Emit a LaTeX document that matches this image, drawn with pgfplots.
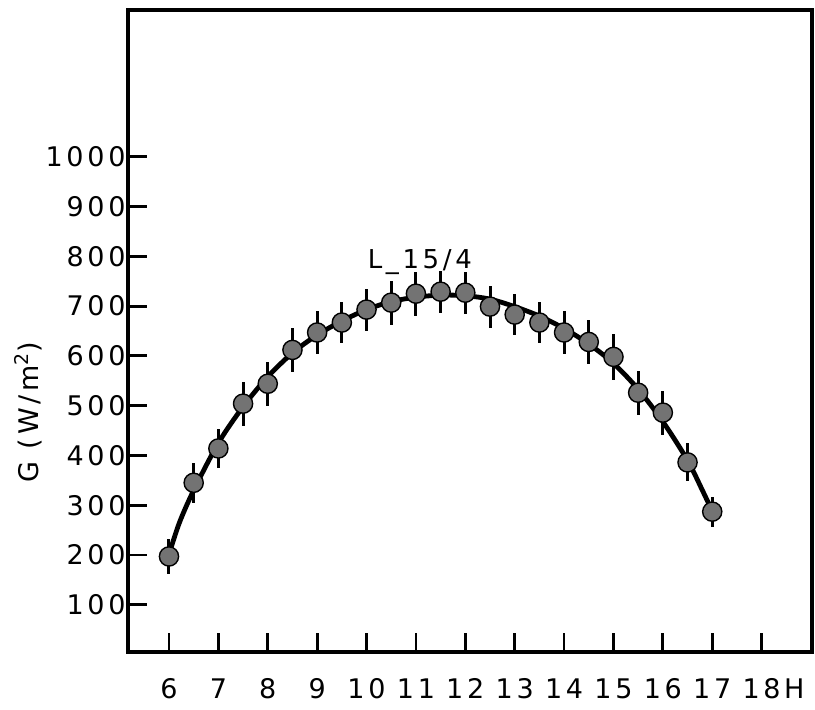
\documentclass[border=0pt]{standalone}
\usepackage{fontspec}
\setmainfont{DejaVu Sans}[LetterSpace=14]
\usepackage{pgfplots}
\usepackage{pgfplotstable}
\pgfplotsset{compat=1.18}
\definecolor{dotgray}{rgb}{0.45,0.45,0.45}
\pgfplotstableread{
x y e
6 197 35
6.5 345 40
7 414 40
7.5 504 44
8 544 44
8.5 612 44
9 647 44
9.5 667 42
10 693 42
10.5 707 44
11 725 44
11.5 729 42
12 727 42
12.5 699 42
13 683 42
13.5 667 42
14 647 44
14.5 628 44
15 598 46
15.5 526 44
16 486 44
16.5 386 38
17 287 30
}\pts
\pgfplotstableread{
x y
5.95 185
6.2 262
6.5 330
7 425
7.5 498
8 558
8.5 606
9 642
9.5 670
10 693
10.5 709
11 718
11.5 722
12 721
12.5 714
13 699
13.5 680
14 655
14.5 624
15 585
15.5 533
16 468
16.5 390
16.8 330
17 288
}\fit
\begin{document}
\begin{tikzpicture}
\begin{axis}[
  scale only axis, width=342pt, height=321pt,
  xmin=5.17, xmax=19.02, ymin=5, ymax=1295,
  axis line style={line width=1.9pt},
  xtick={6,...,18}, ytick={100,200,...,1000},
  tick pos=left, tick align=inside,
  major tick length=9.5pt,
  tick style={line width=1.4pt, black},
  /pgf/number format/assume math mode=true,
  /pgf/number format/1000 sep={},
  tick label style={font=\fontsize{13.5}{15}\selectfont},
  yticklabel style={anchor=east, inner sep=1pt},
  xticklabel style={anchor=base, yshift=-23pt},
  ylabel={G (W/m\textsuperscript{2})},
  ylabel style={at={(axis description cs:-0.146,0.374)}, anchor=center, font=\fontsize{13.5}{15}\selectfont},
  clip=false,
]
\coordinate (SW) at (rel axis cs:0,0);
\coordinate (NE) at (rel axis cs:1,1);
\addplot[smooth, line width=2.4pt, black] table[x=x, y=y] {\fit};
\addplot[only marks, mark=*, mark size=4.8pt,
  mark options={fill=dotgray, draw=black, line width=0.7pt},
  error bars/.cd, y dir=both, y explicit,
  error bar style={line width=1.5pt, black}, error mark=none]
  table[x=x, y=y, y error=e] {\pts};
\node[font=\fontsize{13}{15}\selectfont] at (axis cs:11.08,789) {L\_15/4};
\node[font=\fontsize{13.5}{15}\selectfont, anchor=base] at (axis cs:18.66,5) [yshift=-23pt] {H};
\end{axis}
\pgfresetboundingbox
\path[use as bounding box] ([xshift=-64pt,yshift=-28.5pt]SW) rectangle ([xshift=1.5pt,yshift=5pt]NE);
\end{tikzpicture}
\end{document}
